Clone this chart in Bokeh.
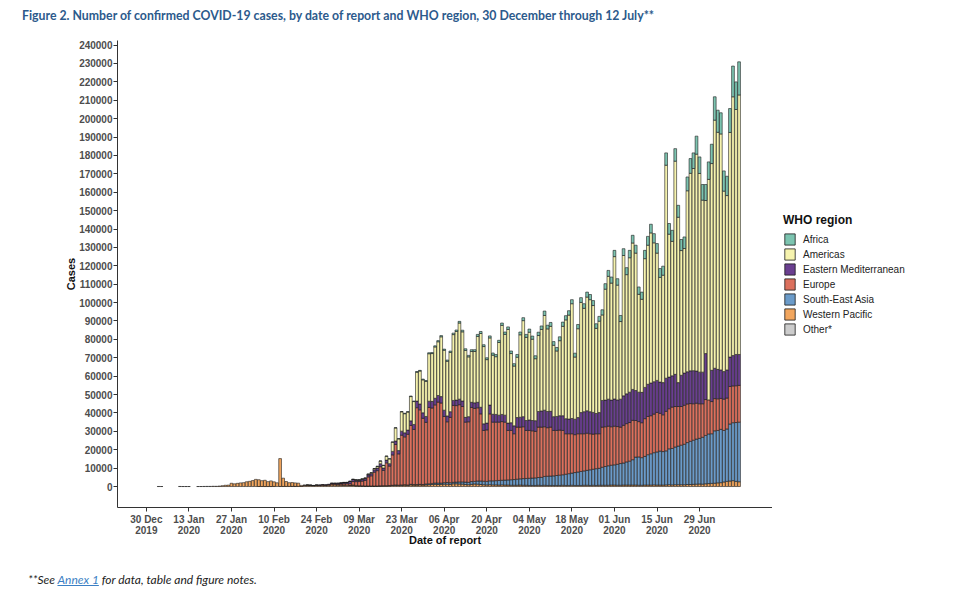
import numpy as np
import pandas as pd
from bokeh.plotting import figure
from bokeh.layouts import column, row
from bokeh.models import (ColumnDataSource, FixedTicker, Legend, LegendItem, Div,
                          NumeralTickFormatter)
from bokeh.embed import file_html
from bokeh.resources import INLINE

# ---------------- data (daily confirmed cases by WHO region) -------------
report_dates = pd.date_range("2019-12-30", "2020-07-12", freq="D")

tick_days = [0, 14, 28, 42, 56, 70, 84, 98, 112, 126, 140, 154, 168, 182]
tick_labels = ["30 Dec\n2019", "13 Jan\n2020", "27 Jan\n2020", "10 Feb\n2020", "24 Feb\n2020",
               "09 Mar\n2020", "23 Mar\n2020", "06 Apr\n2020", "20 Apr\n2020", "04 May\n2020",
               "18 May\n2020", "01 Jun\n2020", "15 Jun\n2020", "29 Jun\n2020"]
y_ticks = [0, 10000, 20000, 30000, 40000, 50000, 60000, 70000, 80000, 90000, 100000, 110000,
           120000, 130000, 140000, 150000, 160000, 170000, 180000, 190000, 200000, 210000,
           220000, 230000, 240000]

western_pacific = [
    0, 0, 0, 0, 27, 17, 0, 0, 0, 0, 0, 41, 1, 1, 4, 0, 0,
    5, 17, 59, 77, 77, 149, 131, 259, 444, 688, 769, 1771, 1459, 1737, 1982, 2102, 2590, 2829,
    3235, 3887, 3694, 3143, 3399, 2656, 3062, 2478, 2015, 15152, 4500, 2641, 2009, 2048, 1886,
    1749, 600, 700, 800, 700, 500, 700, 600, 700, 600, 700, 900,
    900, 800, 700, 850, 700, 650, 800, 450, 400, 350, 300, 300, 300, 250,
    300, 350, 400, 400, 450, 600, 700, 600, 700, 800, 700, 900, 800, 800, 900, 800, 900, 1000,
    1100, 1200, 1100, 1200, 1300, 1300, 1200,
    1500, 1500, 1400, 1300, 1100, 1000, 1200, 1400, 1300, 1100, 1000, 900, 1000, 900, 900, 800,
    900, 800, 800, 700, 700, 700, 800, 700, 700, 600, 600, 600, 700, 600, 700, 600, 600, 600,
    600, 600, 700, 600, 600, 700, 600, 600, 600, 700, 700, 600, 700, 600, 700, 700, 700, 700, 800,
    800, 700, 700, 800, 800, 800, 800, 800, 700, 700, 800, 800, 800, 900, 800, 800, 800, 900,
    1000, 900, 1000, 1000, 1000, 1000, 1100, 1100, 1200, 1300, 1400, 1300, 1500, 1600, 1700,
    1800, 2000, 2100, 2500, 2800, 3000, 3200, 2800, 2600]

south_east_asia = [
    0, 0, 0, 0, 0, 0, 0, 0, 0, 0, 0, 0, 0, 0, 0, 0, 0, 0, 0, 0, 0, 0, 0, 0, 0, 0, 0, 0, 0, 0,
    0, 0, 0, 0, 0, 0, 0, 0, 0, 0, 0, 0, 0, 0, 0, 0, 0, 0, 0, 0, 0, 0, 0, 0, 0, 0, 0, 0, 0, 0,
    0, 0, 0, 0, 0,
    3, 0, 5, 10, 10, 10, 15, 10, 20, 20, 40,
    40, 50, 60, 70, 80, 100, 150, 150, 200, 200, 200, 300, 250, 250, 300, 300, 500, 500, 600,
    700, 800, 700, 800, 900, 900,
    800, 900, 1100, 1200, 1300, 1300, 1500, 1400, 1700, 1900, 1900, 1900, 2100, 2200, 2300,
    2500, 2500, 2700, 2800, 3000, 3100, 3300, 3400, 3600, 3700, 3900, 4000, 4100, 4200, 4400,
    4800, 5000, 5100, 5200, 5400, 5600, 5700, 6100, 6400, 6600, 7000, 7300, 7600, 7800, 8100,
    8500, 8700, 9100, 9200,
    9800, 10200, 10600, 10800,
    11000, 11400, 11800, 12000, 12600, 13000, 13800, 15200, 15400, 15000, 15600, 16500, 17000,
    17500, 18000, 18500, 18200, 18500, 19500, 19800, 20500, 21000, 21500, 22000, 22800, 23500,
    24000, 24500, 24800, 25500, 26300, 27000, 27000, 28500, 28500, 29000, 28000, 28500, 31000,
    31500, 32000, 32400]

europe = [
    0, 0, 0, 0, 0, 0, 0, 0, 0, 0, 0, 0, 0, 0, 0, 0, 0, 0, 0, 0, 0, 0, 0, 0, 0, 0, 0, 0, 0, 0,
    0, 0, 0, 0, 0, 0, 0, 0, 0, 0, 0, 0, 0, 0, 0, 0, 0, 0, 0, 0, 0, 0, 0,
    5, 20, 70, 90, 140, 220, 200, 330, 520,
    480, 440, 690, 730, 880, 900, 1900, 2200, 2300, 2600, 3000, 4900, 5500, 7500,
    8300, 10400, 8300, 12400, 10600, 16500, 22000, 17000, 27000, 26000, 27500, 32000, 30000,
    41800, 40500, 36000, 33500, 41500, 41000, 42500, 44000, 43500, 36000, 33000, 35500,
    41800, 41600, 42000, 41000, 32600, 32900, 40300, 39700, 39800, 36500, 27600, 28000, 36400,
    31900, 31800, 31700, 31900, 31500, 26900, 26800, 24900, 28300, 28100, 28200, 26100, 26000,
    25700, 25300, 27400, 27300, 27000, 26400, 26600, 24700, 24500, 24500, 24100, 22000, 21700,
    21400, 20600, 20800, 20500, 20200, 20200, 19600, 19100, 19000, 18800,
    21800, 21600, 21500, 20900,
    21000, 20500, 19800, 20500, 20800, 21000, 21400, 19900, 19200, 19000, 20500, 20800, 20700,
    21000, 21500, 20500, 20000, 21500, 21800, 22500, 22000, 21500, 21000, 21200, 21000, 20500,
    19800, 19500, 18800, 18200, 19500, 18500, 17500, 17500, 17200, 16800, 17000, 16800, 20400,
    20000, 20000, 20000]

eastern_mediterranean = [
    0, 0, 0, 0, 0, 0, 0, 0, 0, 0, 0, 0, 0, 0, 0, 0, 0, 0, 0, 0, 0, 0, 0, 0, 0, 0, 0, 0, 0, 0,
    0, 0, 0, 0, 0, 0, 0, 0, 0, 0, 0, 0, 0, 0, 0, 0, 0, 0, 0, 0, 0, 0,
    5, 15, 30, 40, 60, 100, 130, 200, 220, 380,
    400, 550, 500, 600, 600, 1200, 1100, 800, 700, 900, 1000, 1100, 1150, 1300,
    1400, 1600, 1300, 1500, 1300, 1900, 1900, 1800, 2200, 2200, 2300, 2500, 2700, 3600, 3200,
    3000, 3200, 3400, 3600, 3600, 3600, 3500, 3400, 3200, 3100,
    2700, 3000, 3000, 3000, 2600, 2800, 2800, 3000, 3000, 3600, 3600, 3700, 4800, 4300, 4200,
    3800, 3900, 3800, 4000, 4200, 4300, 5200, 5400, 5500, 5400, 5700, 5600, 5800, 8500, 8800,
    9000, 8800, 8600, 7500, 7600, 7800, 8000, 8200, 8000, 8300, 8400, 8800, 11500, 12000, 12200,
    12000, 11800, 11000, 11500,
    14500, 14500, 14700, 14500,
    14800, 14500, 15200, 16000, 16200, 16500, 16800, 16300, 16000, 16500, 17000, 17500, 17800,
    17600, 17400, 17000, 17500, 18000, 17200, 17000, 17500, 13000, 17000, 17500, 17500, 17800,
    18000, 17500, 17200, 17200, 25000, 0, 17000, 16500, 16000, 15500, 15000, 15300, 16000,
    16500, 17000, 16800]

americas = [
    0, 0, 0, 0, 0, 0, 0, 0, 0, 0, 0, 0, 0, 0, 0, 0, 0, 0, 0, 0, 0, 0, 0, 0, 0, 0, 0, 0, 0, 0,
    0, 0, 0, 0, 0, 0, 0, 0, 0, 0, 0, 0, 0, 0, 0, 0, 0, 0, 0, 0, 0, 0, 0, 0, 0, 0, 0, 0, 0, 0,
    0, 10,
    15, 14, 30, 40, 60, 80, 110, 150, 200, 250, 300, 400, 500, 650,
    900, 1450, 1420, 2100, 2600, 5000, 7100, 6350, 10500, 10400, 9800, 13200, 12450, 15700,
    17900, 17900, 19100, 25800, 26000, 27900, 29200, 32500, 32600, 29700, 32200,
    35800, 37300, 41400, 37600, 36400, 32500, 27600, 27900, 35800, 40100, 42000, 34500, 36500,
    32100, 31400, 39500, 48400, 43900, 50900, 37600, 32500, 32800, 44800, 52200, 45200, 47700,
    44200, 33700, 41300, 44300, 51500, 44900, 46200, 38800, 35600, 40800, 48600, 53700, 56500,
    62400, 33800, 48300, 59900, 56200, 61800, 60900, 58100, 46300, 49700, 46500, 60300, 66800,
    63600,
    77400, 62400, 42200, 76300, 64800, 73100, 79600, 74700, 53200, 50600, 70000, 75600, 81600,
    75500, 69200, 56900, 58400, 115800, 77700, 73100, 115900, 89900, 67800, 67700, 98400,
    107400, 109900, 117900, 108000, 93500, 83200, 119900, 112400, 134900, 128900, 128300,
    98100, 94800, 122100, 140700, 133200, 141100]

africa = [
    0, 0, 0, 0, 0, 0, 0, 0, 0, 0, 0, 0, 0, 0, 0, 0, 0, 0, 0, 0, 0, 0, 0, 0, 0, 0, 0, 0, 0, 0,
    0, 0, 0, 0, 0, 0, 0, 0, 0, 0, 0, 0, 0, 0, 0, 0, 0, 0, 0, 0, 0, 0, 0, 0, 0, 0, 0, 0, 0, 0,
    0, 0, 0, 0,
    1, 2, 1, 3, 5, 5, 8, 10, 10, 10, 10, 20,
    40, 50, 50, 80, 90, 150, 150, 170, 190, 230, 210, 320, 280, 360, 360, 410, 410, 540, 540,
    600, 630, 660, 610, 670, 740,
    800, 800, 900, 900, 900, 800, 1000, 1000, 1100, 1100, 1000, 1000, 1100, 1200, 1200, 1200,
    1300, 1300, 1400, 1400, 1300, 1500, 1500, 1600, 1600, 1700, 1700, 1600, 1800, 1900, 2400,
    2000, 2100, 2000, 1900, 2100, 2300, 2300, 2400, 2200, 2100, 2300, 2600, 2500, 2700, 2800,
    2700, 2500, 2600, 2800, 3000, 3200, 3300,
    3400, 3500, 3300, 3700, 3800, 4000, 4200, 4300, 4000, 3900, 4500, 4800, 4700, 5000, 5200,
    4800, 4900, 6700, 5800, 6000, 6800, 6500, 6000, 6300, 7500, 8000, 8500, 9800, 9000, 8500,
    8700, 9500, 10500, 12700, 12000, 11500, 11000, 10500, 13000, 16700, 15000, 18000]

other = [
    0, 0, 0, 0, 0, 0, 0, 0, 0, 0, 0, 0, 0, 0, 0, 0, 0, 0, 0, 0, 0, 0, 0, 0, 0, 0, 0, 0, 0, 0,
    0, 0, 0, 0, 0, 0, 0,
    10, 41, 3, 6, 3, 64, 0, 35, 44, 67, 70, 99, 88, 79, 13,
    0, 0, 0, 0, 0, 0, 0, 0, 0, 0, 0, 0, 0, 0, 0, 0, 0, 0, 0, 0, 0, 0, 0, 0, 0, 0, 0, 0, 0, 0,
    0, 0, 0, 0, 0, 0, 0, 0, 0, 0, 0, 0, 0, 0, 0, 0, 0, 0, 0, 0, 0, 0, 0, 0, 0, 0, 0, 0, 0, 0,
    0, 0, 0, 0, 0, 0, 0, 0, 0, 0, 0, 0, 0, 0, 0, 0, 0, 0, 0, 0, 0, 0, 0, 0, 0, 0, 0, 0, 0, 0,
    0, 0, 0, 0, 0, 0, 0, 0, 0, 0, 0, 0, 0, 0, 0, 0, 0, 0, 0, 0, 0, 0, 0, 0, 0, 0, 0, 0, 0, 0,
    0, 0, 0, 0, 0, 0, 0, 0, 0, 0, 0, 0, 0, 0, 0, 0, 0, 0, 0, 0, 0, 0, 0, 0]

region_names = ["Africa", "Americas", "Eastern Mediterranean", "Europe",
                "South-East Asia", "Western Pacific", "Other*"]
region_values = [africa, americas, eastern_mediterranean, europe,
                 south_east_asia, western_pacific, other]
region_colors = ["#7cc4b0", "#f6f3ae", "#6a3f90", "#dc705d", "#6b9bc9", "#f2a65e", "#cccccc"]

n = len(report_dates)
for vals in region_values:
    assert len(vals) == n, len(vals)

day = np.array((report_dates - report_dates[0]).days, dtype=float)

# ---------------- layout geometry (page pixels) ----------------
W = 950
TITLE_H = 30
FIG_H = 535
FOOT_H = 30
FRAME_L, FRAME_R = 117, 772
FRAME_T, FRAME_B = 40, 507           # in page coordinates
BAR_LINE = "#1b1b1b"

p = figure(width=FRAME_R, height=FIG_H, x_range=(-9.5, 206), y_range=(-11400, 242500),
           output_backend="svg", toolbar_location=None,
           min_border_left=FRAME_L, min_border_right=0,
           min_border_top=FRAME_T - TITLE_H,
           min_border_bottom=TITLE_H + FIG_H - FRAME_B)
p.xgrid.visible = False
p.ygrid.visible = False
p.outline_line_color = None
p.background_fill_color = "white"
p.border_fill_color = "white"

# stacked bars: bottom of stack is last region in legend order
bottom = np.zeros(n)
for name, vals, col in reversed(list(zip(region_names, region_values, region_colors))):
    v = np.array(vals, dtype=float)
    top = bottom + v
    m = v > 0
    src = ColumnDataSource(dict(x=day[m], bottom=bottom[m], top=top[m]))
    p.vbar(x="x", bottom="bottom", top="top", width=0.9, source=src,
           fill_color=col, line_color=BAR_LINE, line_width=0.6)
    bottom = top

# axes
axis_col = "#333333"
lab_col = "#4d4d4d"
for ax in (p.xaxis[0], p.yaxis[0]):
    ax.axis_line_color = axis_col
    ax.major_tick_line_color = axis_col
    ax.minor_tick_line_color = None
    ax.major_tick_out = 4
    ax.major_tick_in = 0
    ax.major_label_text_font = "Liberation Sans"
    ax.major_label_text_font_style = "bold"
    ax.major_label_text_font_size = "10px"
    ax.major_label_text_color = lab_col
    ax.axis_label_text_font = "Liberation Sans"
    ax.axis_label_text_font_style = "bold"
    ax.axis_label_text_font_size = "11px"
    ax.axis_label_text_color = "#111111"

p.yaxis.ticker = FixedTicker(ticks=y_ticks)
p.yaxis.formatter = NumeralTickFormatter(format="0")
p.yaxis.major_label_standoff = 1
p.yaxis.axis_label = "Cases"
p.yaxis.axis_label_standoff = -1

p.xaxis.ticker = FixedTicker(ticks=tick_days)
p.xaxis.major_label_overrides = {d: t for d, t in zip(tick_days, tick_labels)}
p.xaxis.major_label_text_line_height = 1.05
p.xaxis.major_label_standoff = 2
p.xaxis.axis_label = "Date of report"
p.xaxis.axis_label_standoff = -5

# legend in a companion figure on the right (its frame is aligned with the main frame)
LEG_W = W - FRAME_R
lg = figure(width=LEG_W, height=FIG_H, x_range=(0, 1), y_range=(0, 1),
            x_axis_type=None, y_axis_type=None, output_backend="svg",
            toolbar_location=None, min_border=0)
lg.xgrid.visible = False
lg.ygrid.visible = False
lg.outline_line_color = None
lg.background_fill_color = "white"
lg.border_fill_color = "white"
items = []
for name, col in zip(region_names, region_colors):
    # one key bar per region, placed outside the visible range so only the legend shows it
    r = lg.vbar(x="x", bottom="bottom", top="top", width=0.9,
                source=ColumnDataSource(dict(x=[5.0], bottom=[0.0], top=[1.0])),
                fill_color=col, line_color=BAR_LINE, line_width=0.8)
    items.append(LegendItem(label=name, renderers=[r]))
legend = Legend(items=items, location=(783 - FRAME_R, FRAME_B - 336),
                title="WHO region",
                title_text_font="Liberation Sans", title_text_font_style="bold",
                title_text_font_size="12px", title_text_color="#111111", title_standoff=5,
                label_text_font="Liberation Sans", label_text_font_size="10px",
                label_text_color="#222222", glyph_width=13, glyph_height=14,
                label_standoff=7, label_height=14, spacing=1, padding=0, margin=0,
                border_line_alpha=0, background_fill_alpha=0)
lg.add_layout(legend)

title_div = Div(
    text=('<div style="padding:8px 0 0 22px; font-family:Lato; font-weight:bold; '
          'font-size:12.3px; line-height:15px; color:#2c5a8c; white-space:nowrap;">'
          'Figure 2. Number of confirmed COVID-19 cases, by date of report and WHO region, '
          '30 December through 12 July**</div>'),
    width=W, height=TITLE_H, margin=(0, 0, 0, 0))

foot_div = Div(
    text=('<div style="padding:8px 0 0 28px; font-family:Lato; font-style:italic; '
          'font-size:12px; line-height:14px; color:#222222; white-space:nowrap;">'
          '**See <span style="color:#3b7fc4; text-decoration:underline;">Annex 1</span> '
          'for data, table and figure notes.</div>'),
    width=W, height=FOOT_H, margin=(0, 0, 0, 0))

layout = column(title_div, row(p, lg, spacing=0), foot_div, spacing=0)
open("out.html", "w").write(file_html(layout, INLINE))
